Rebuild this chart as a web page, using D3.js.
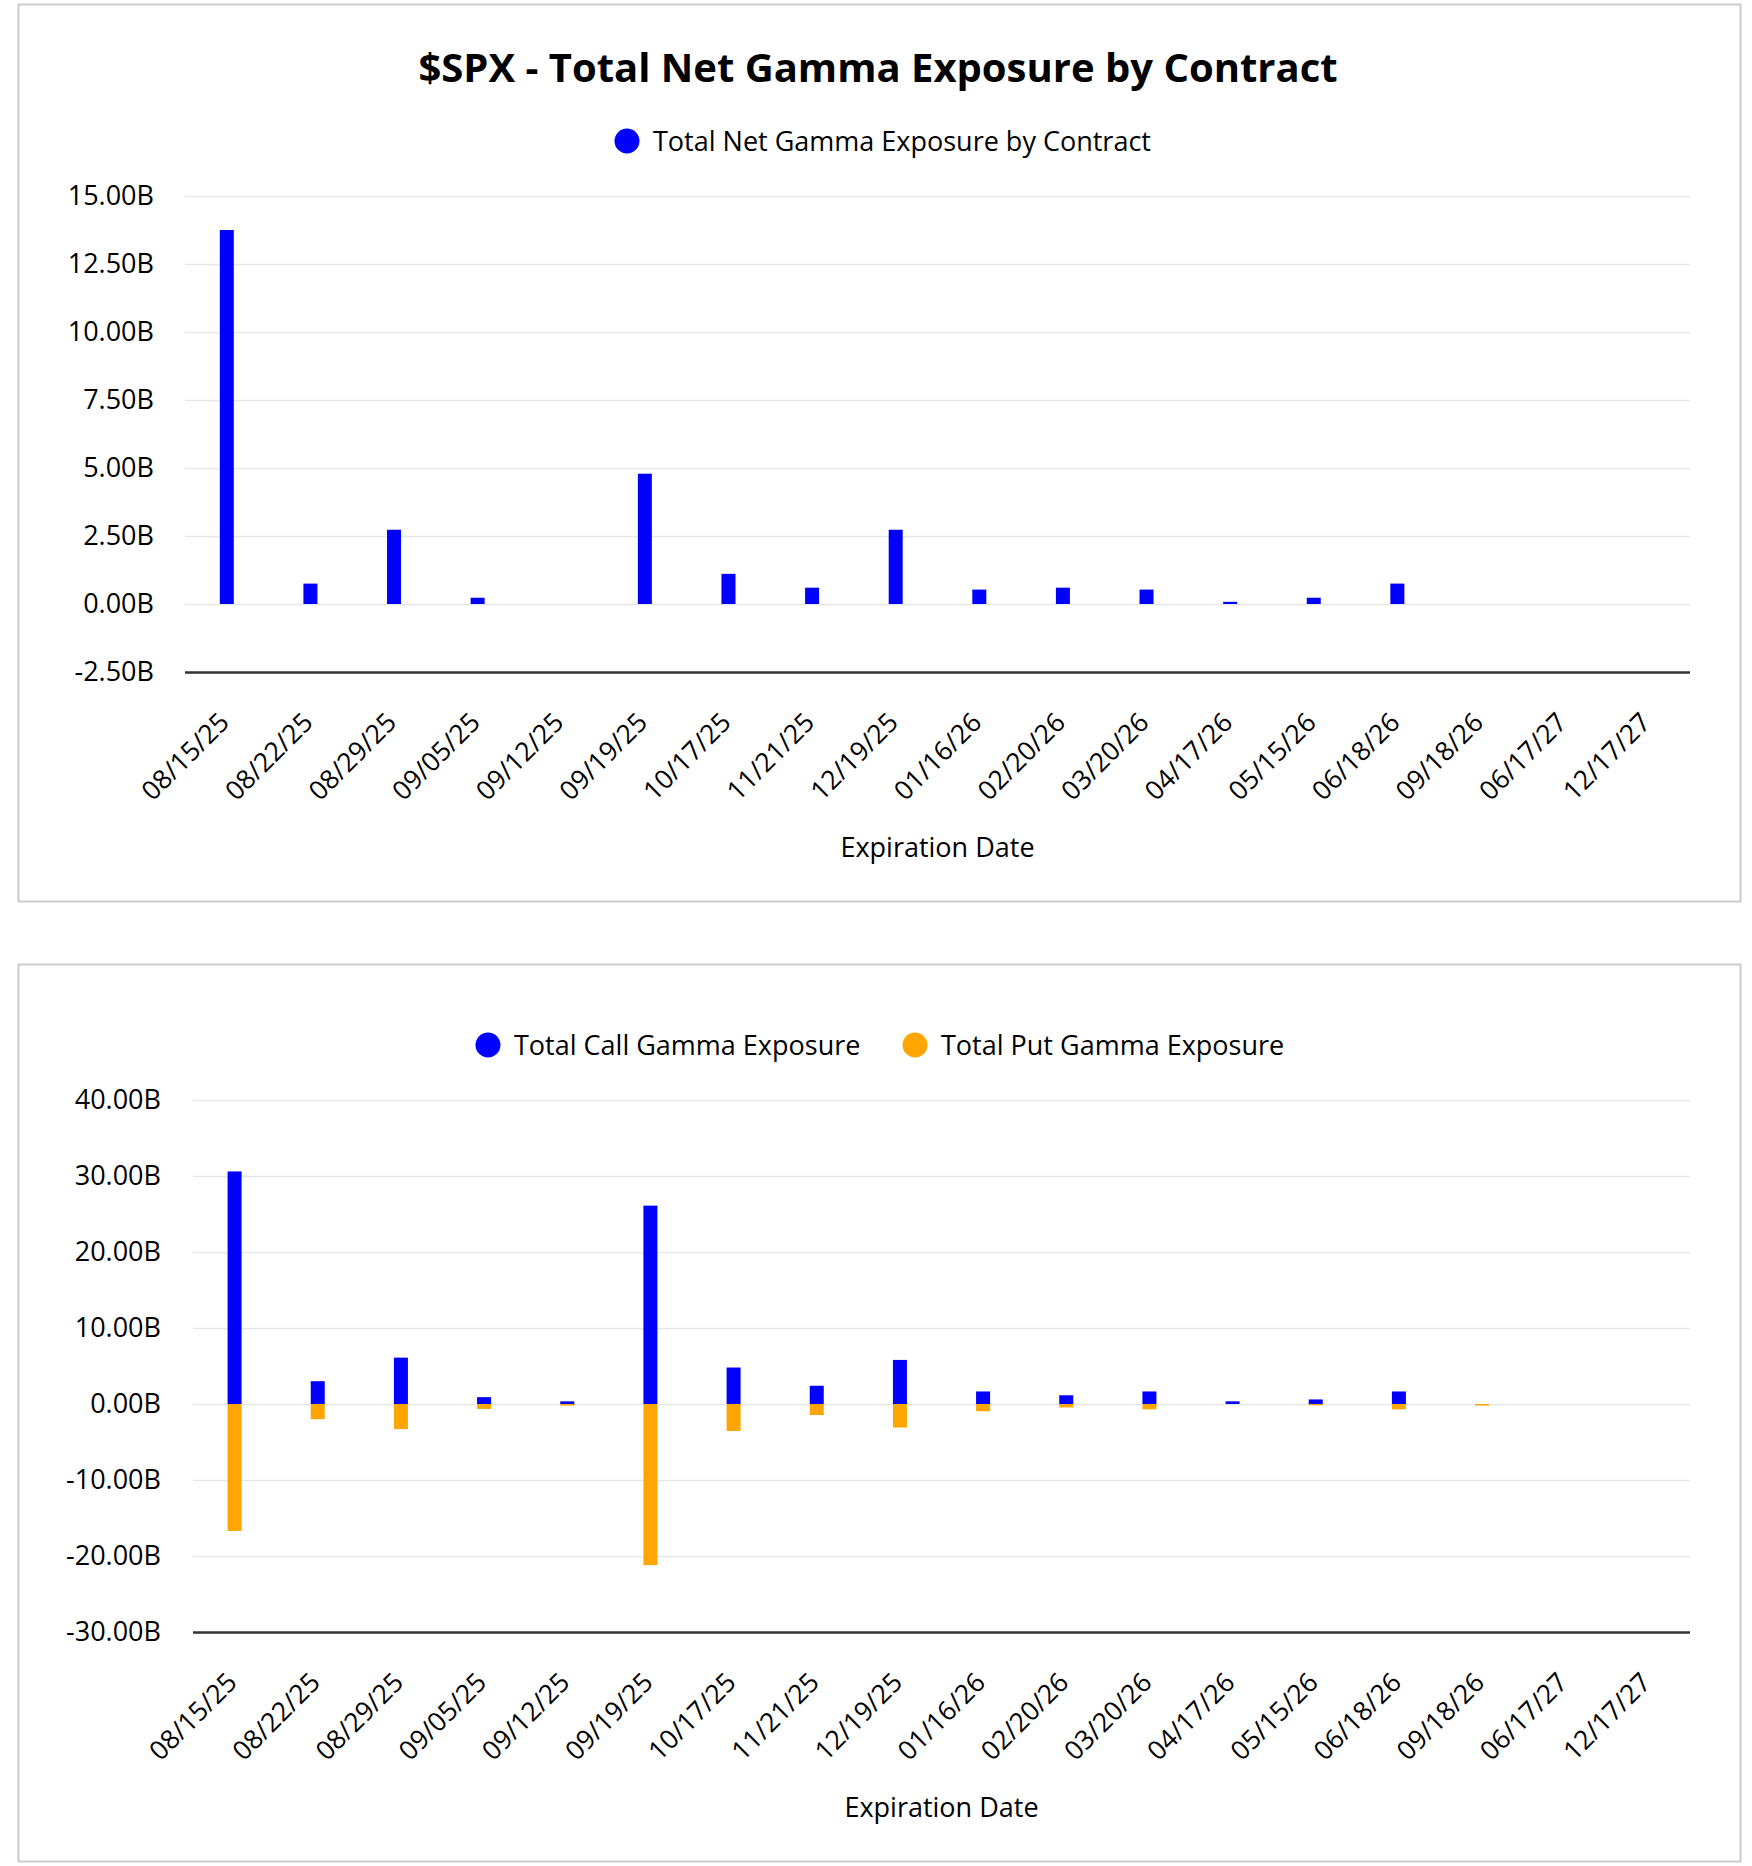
<!DOCTYPE html>
<html>
<head>
<meta charset="utf-8">
<script src="https://cdn.jsdelivr.net/npm/d3@7"></script>
<style>
  body { margin: 0; background: #fff; }
  text { font-family: "Open Sans", sans-serif; fill: #000; }
</style>
</head>
<body>
<script>
var dates = ["08/15/25", "08/22/25", "08/29/25", "09/05/25", "09/12/25", "09/19/25",
  "10/17/25", "11/21/25", "12/19/25", "01/16/26", "02/20/26", "03/20/26",
  "04/17/26", "05/15/26", "06/18/26", "09/18/26", "06/17/27", "12/17/27"];

// billions
var netGamma = [13.75, 0.75, 2.73, 0.23, 0.0, 4.79, 1.11, 0.6, 2.73, 0.53, 0.6, 0.53,
  0.08, 0.23, 0.75, 0.0, 0.0, 0.0];
var callGamma = [30.6, 3.0, 6.1, 0.9, 0.35, 26.1, 4.8, 2.4, 5.8, 1.65, 1.15, 1.65,
  0.35, 0.6, 1.65, 0.0, 0.0, 0.0];
var putGamma = [-16.7, -2.0, -3.3, -0.65, -0.2, -21.2, -3.55, -1.45, -3.1, -0.95, -0.45, -0.7,
  0.0, -0.17, -0.7, -0.2, 0.0, 0.0];

var netTicks = [-2.5, 0, 2.5, 5, 7.5, 10, 12.5, 15];
var splitTicks = [-30, -20, -10, 0, 10, 20, 30, 40];

var width = 1752,
    height = 1866;

var svg = d3.select("body").append("svg")
    .attr("width", width)
    .attr("height", height);

svg.append("rect").attr("width", width).attr("height", height).attr("fill", "#fff");

function fmt(v) { return v.toFixed(2) + "B"; }

function panel(cfg) {
  var g = svg.append("g");

  g.append("rect")
      .attr("x", 18.5).attr("y", cfg.top + 0.5)
      .attr("width", 1722).attr("height", 897)
      .attr("fill", "none")
      .attr("stroke", "#cccccc")
      .attr("stroke-width", 2);

  var x = d3.scaleBand().domain(dates).range([cfg.left, 1690]);
  var y = d3.scaleLinear().domain(cfg.domain).range(cfg.yRange);

  // gridlines + y labels
  var yAxis = g.append("g")
      .attr("transform", "translate(" + cfg.left + ",0)")
      .call(d3.axisLeft(y).tickValues(cfg.ticks).tickFormat(fmt)
        .tickSize(-(1690 - cfg.left)).tickPadding(cfg.left - cfg.labelRight));
  yAxis.select(".domain").remove();
  yAxis.selectAll(".tick line")
      .attr("stroke", function(d) { return d === cfg.domain[0] ? "#333" : "#e6e6e6"; })
      .attr("stroke-width", function(d) { return d === cfg.domain[0] ? 2.5 : 1.5; });
  yAxis.selectAll(".tick text")
      .style("font-size", "27px")
      .attr("fill", "#000");

  // bars
  var bw = 14;
  cfg.series.forEach(function(s) {
    g.append("g").selectAll("rect")
      .data(s.values)
      .enter().append("rect")
        .attr("x", function(d, i) { return x(dates[i]) + x.bandwidth() / 2 - bw / 2; })
        .attr("y", function(d) { return y(Math.max(0, d)); })
        .attr("width", bw)
        .attr("height", function(d) { return Math.abs(y(d) - y(0)); })
        .attr("fill", s.color);
  });

  // x labels
  var axisY = y(cfg.domain[0]);
  g.append("g").selectAll("text")
    .data(dates)
    .enter().append("text")
      .attr("transform", function(d) {
        return "translate(" + (x(d) + x.bandwidth() / 2 + 4) + "," + (axisY + 52) + ") rotate(-45)";
      })
      .attr("text-anchor", "end")
      .style("font-size", "26.5px")
      .text(function(d) { return d; });

  g.append("text")
      .attr("x", (cfg.left + 1690) / 2)
      .attr("y", cfg.axisTitleY)
      .attr("text-anchor", "middle")
      .style("font-size", "27px")
      .text("Expiration Date");

  // legend
  var lg = g.append("g").selectAll("g")
    .data(cfg.legend)
    .enter().append("g")
      .attr("transform", function(d) { return "translate(" + d.x + "," + cfg.legendY + ")"; });
  lg.append("circle").attr("r", 12.5).attr("fill", function(d) { return d.color; });
  lg.append("text")
      .attr("x", 26).attr("y", 10)
      .style("font-size", "27px")
      .text(function(d) { return d.name; });
}

svg.append("text")
    .attr("x", 878).attr("y", 82)
    .attr("text-anchor", "middle")
    .style("font-size", "40px")
    .style("font-weight", "bold")
    .text("$SPX - Total Net Gamma Exposure by Contract");

panel({
  top: 4, left: 185, labelRight: 154,
  domain: [-2.5, 15], yRange: [672, 196], ticks: netTicks,
  series: [{values: netGamma, color: "#0000ff"}],
  legend: [{name: "Total Net Gamma Exposure by Contract", color: "#0000ff", x: 627}],
  legendY: 141, axisTitleY: 857
});

panel({
  top: 964, left: 193, labelRight: 161,
  domain: [-30, 40], yRange: [1632, 1100], ticks: splitTicks,
  series: [{values: callGamma, color: "#0000ff"}, {values: putGamma, color: "#ffa500"}],
  legend: [{name: "Total Call Gamma Exposure", color: "#0000ff", x: 488},
           {name: "Total Put Gamma Exposure", color: "#ffa500", x: 915}],
  legendY: 1045, axisTitleY: 1817
});
</script>
</body>
</html>
